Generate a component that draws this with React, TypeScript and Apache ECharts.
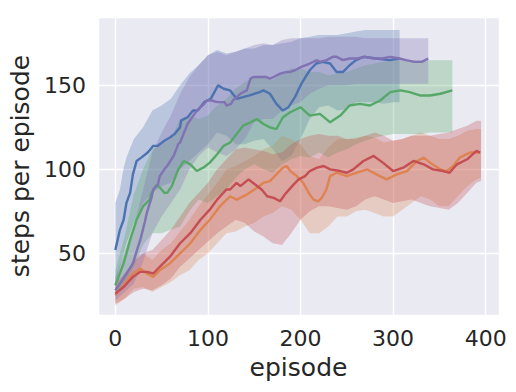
import React, { useEffect, useRef } from "react";
import * as echarts from "echarts";

// ---- axis ticks ----
const X_TICKS = [0, 100, 200, 300, 400];
const Y_TICKS = [50, 100, 150];

// ---- mean curves: [episode, steps per episode] ----
const blueMean = [
  [0, 52], [5, 64], [9, 70], [12, 80], [16, 86], [19, 97], [23, 105], [28, 107], [35, 110], [38, 112], [41, 114],
  [46, 114], [48, 115], [53, 117], [59, 119], [64, 121], [70, 125], [71, 129], [78, 131], [84, 135], [89, 135],
  [96, 140], [103, 142], [111, 150], [117, 148], [124, 147], [131, 142], [138, 143], [145, 144], [150, 145],
  [156, 146], [160, 147], [167, 145], [174, 139], [181, 135], [187, 137], [194, 143], [201, 151], [210, 159],
  [217, 163], [224, 164], [232, 163], [239, 158], [246, 158], [253, 162], [260, 165], [268, 167], [282, 166],
  [296, 165], [307, 166],
];
const orangeMean = [
  [0, 25], [9, 31], [19, 38], [27, 41], [34, 38], [41, 36], [48, 40], [59, 44], [70, 50], [81, 56], [92, 64],
  [102, 70], [113, 78], [124, 84], [131, 82], [142, 85], [153, 89], [160, 92], [167, 93], [174, 97], [181, 101],
  [185, 102], [189, 99], [196, 96], [203, 92], [210, 85], [214, 82], [219, 81], [223, 83], [228, 88], [232, 96],
  [239, 98], [250, 96], [261, 98], [272, 100], [282, 97], [293, 94], [304, 97], [315, 99], [326, 105], [333, 107],
  [340, 104], [351, 100], [358, 99], [365, 102], [372, 107], [383, 110], [394, 110],
];
const greenMean = [
  [0, 31], [9, 44], [16, 58], [23, 70], [30, 78], [37, 82], [39, 86], [45, 91], [50, 88], [53, 86], [56, 86],
  [61, 90], [68, 100], [74, 105], [81, 103], [88, 99], [95, 101], [102, 104], [110, 109], [117, 114], [124, 116],
  [131, 121], [138, 126], [146, 128], [153, 130], [160, 127], [167, 125], [174, 124], [181, 131], [189, 134],
  [200, 137], [210, 132], [221, 133], [232, 128], [243, 132], [253, 138], [264, 139], [275, 138], [286, 141],
  [297, 146], [308, 147], [318, 146], [329, 144], [340, 144], [351, 145], [364, 147],
];
const redMean = [
  [0, 26], [9, 30], [19, 36], [27, 39], [34, 39], [41, 38], [48, 42], [59, 48], [70, 56], [81, 62], [92, 70],
  [102, 76], [110, 82], [120, 88], [124, 88], [131, 92], [135, 90], [144, 94], [151, 91], [158, 88], [164, 84],
  [171, 83], [178, 81], [183, 85], [191, 90], [198, 94], [205, 96], [210, 99], [218, 101], [225, 102], [232, 100],
  [243, 99], [250, 98], [257, 100], [268, 105], [279, 108], [289, 104], [300, 99], [311, 101], [322, 105],
  [333, 103], [343, 100], [354, 99], [361, 98], [369, 103], [380, 106], [390, 111], [394, 110],
];
const purpleMean = [
  [0, 28], [10, 36], [19, 44], [24, 53], [27, 58], [32, 69], [34, 74], [39, 83], [41, 88], [46, 91], [48, 96],
  [53, 100], [56, 102], [63, 108], [68, 115], [70, 116], [75, 123], [78, 127], [88, 135], [96, 139], [99, 141],
  [104, 141], [110, 140], [118, 140], [120, 138], [125, 139], [127, 141], [135, 145], [142, 147], [146, 154],
  [149, 155], [156, 155], [163, 155], [167, 154], [171, 155], [178, 157], [185, 158], [189, 158], [194, 159],
  [201, 161], [210, 163], [218, 165], [221, 164], [228, 165], [235, 167], [239, 167], [246, 165], [253, 166],
  [261, 166], [270, 167], [279, 166], [288, 166], [297, 167], [307, 166], [314, 165], [323, 164], [331, 164],
  [338, 166],
];

// ---- confidence bands: [episode, lower, upper] ----
const blueBand = [
  [0, 30, 80], [5, 42, 88], [9, 50, 101], [12, 56, 107], [20, 68, 118], [30, 80, 125], [40, 86, 135],
  [50, 90, 138], [60, 92, 142], [70, 100, 150], [80, 105, 157], [90, 110, 162], [100, 115, 168], [110, 122, 171],
  [120, 120, 169], [130, 115, 170], [140, 115, 172], [150, 117, 172], [160, 118, 174], [170, 112, 174],
  [180, 105, 175], [190, 108, 176], [200, 118, 178], [210, 130, 179], [220, 137, 180], [230, 138, 180],
  [240, 135, 180], [250, 136, 181], [260, 140, 182], [270, 140, 183], [280, 140, 183], [290, 139, 183],
  [300, 140, 183], [307, 140, 183],
];
const orangeBand = [
  [0, 19, 30], [10, 23, 38], [20, 29, 46], [30, 30, 50], [40, 27, 46], [50, 30, 52], [60, 33, 56], [70, 37, 63],
  [80, 40, 70], [90, 46, 78], [100, 50, 85], [110, 56, 92], [120, 62, 100], [130, 63, 102], [140, 66, 105],
  [150, 68, 108], [160, 72, 112], [170, 74, 114], [180, 78, 120], [190, 76, 118], [200, 70, 115], [210, 62, 108],
  [220, 62, 106], [230, 66, 113], [240, 72, 118], [250, 72, 118], [260, 75, 119], [270, 76, 120], [280, 74, 119],
  [290, 72, 116], [300, 72, 117], [310, 76, 118], [320, 80, 120], [330, 84, 122], [340, 82, 120], [350, 78, 118],
  [360, 78, 118], [370, 84, 120], [380, 90, 123], [390, 94, 124], [395, 95, 124],
];
const greenBand = [
  [0, 25, 40], [10, 32, 60], [20, 42, 85], [30, 55, 100], [40, 62, 112], [50, 62, 115], [60, 64, 118],
  [70, 66, 130], [80, 75, 132], [90, 82, 130], [100, 80, 132], [110, 84, 138], [120, 88, 142], [130, 95, 148],
  [140, 100, 152], [150, 103, 155], [160, 100, 155], [170, 98, 153], [180, 103, 157], [190, 106, 160],
  [200, 108, 160], [210, 107, 158], [220, 110, 158], [230, 107, 156], [240, 110, 157], [250, 112, 158],
  [260, 115, 160], [270, 117, 162], [280, 119, 163], [290, 120, 164], [300, 121, 165], [310, 121, 165],
  [320, 121, 165], [330, 121, 165], [340, 122, 165], [350, 122, 165], [364, 122, 165],
];
const redBand = [
  [0, 20, 32], [10, 23, 38], [20, 27, 45], [30, 29, 50], [40, 28, 52], [50, 31, 58], [60, 35, 64], [70, 42, 72],
  [80, 47, 80], [90, 52, 86], [100, 57, 92], [110, 62, 100], [120, 66, 106], [130, 70, 112], [140, 68, 113],
  [150, 63, 112], [160, 60, 111], [170, 56, 109], [180, 55, 110], [190, 62, 115], [200, 70, 118], [210, 75, 120],
  [220, 78, 121], [230, 78, 120], [240, 77, 120], [250, 76, 118], [260, 78, 118], [270, 82, 120], [280, 84, 122],
  [290, 82, 120], [300, 80, 117], [310, 81, 118], [320, 82, 120], [330, 80, 120], [340, 78, 120], [350, 77, 121],
  [360, 76, 122], [370, 80, 124], [380, 86, 126], [390, 92, 129], [395, 93, 129],
];
const purpleBand = [
  [0, 22, 36], [10, 27, 50], [20, 32, 66], [30, 45, 88], [40, 62, 110], [50, 72, 122], [60, 80, 132],
  [70, 88, 145], [80, 100, 155], [90, 108, 162], [100, 113, 168], [110, 110, 170], [120, 108, 168],
  [130, 112, 170], [140, 118, 172], [150, 128, 174], [160, 130, 175], [170, 130, 174], [180, 135, 177],
  [190, 138, 178], [200, 140, 178], [210, 145, 178], [220, 148, 178], [230, 150, 179], [240, 150, 179],
  [250, 150, 179], [260, 151, 179], [270, 151, 178], [280, 151, 178], [290, 151, 178], [300, 151, 178],
  [310, 151, 178], [320, 151, 178], [330, 151, 178], [338, 151, 178],
];

const SERIES = [
  { name: "blue", color: "#4C72B0", mean: blueMean, band: blueBand },
  { name: "orange", color: "#DD8452", mean: orangeMean, band: orangeBand },
  { name: "green", color: "#55A868", mean: greenMean, band: greenBand },
  { name: "red", color: "#C44E52", mean: redMean, band: redBand },
  { name: "purple", color: "#8172B3", mean: purpleMean, band: purpleBand },
];

const FONT = "DejaVu Sans";
const TEXT = "#262626";

function bandSeries(band: number[][], color: string) {
  return {
    type: "custom",
    data: band,
    z: 1,
    silent: true,
    encode: { x: 0, y: [1, 2] },
    renderItem: (params: any, api: any) => {
      if (params.dataIndex !== 0) return null;
      const top = band.map((d) => api.coord([d[0], d[2]]));
      const bottom = band.map((d) => api.coord([d[0], d[1]])).reverse();
      return {
        type: "polygon",
        shape: { points: top.concat(bottom) },
        style: { fill: color, opacity: 0.3 },
      };
    },
  };
}

export default function App() {
  const ref = useRef<HTMLDivElement>(null);
  useEffect(() => {
    if (!ref.current) return;
    const chart = echarts.init(ref.current, null, { renderer: "svg" });
    const series: any[] = [];
    SERIES.forEach((s) => series.push(bandSeries(s.band, s.color)));
    SERIES.forEach((s) =>
      series.push({
        type: "line",
        name: s.name,
        data: s.mean,
        showSymbol: false,
        symbol: "none",
        z: 2,
        silent: true,
        lineStyle: { color: s.color, width: 2.4 },
        itemStyle: { color: s.color },
      })
    );
    chart.setOption({
      animation: false,
      grid: {
        left: 98,
        right: 17,
        top: 17,
        bottom: 77,
        show: true,
        backgroundColor: "#EAEAF2",
        borderWidth: 0,
      },
      xAxis: {
        type: "value",
        min: -18.7,
        max: 414.4,
        minInterval: 100,
        maxInterval: 100,
        name: "episode",
        nameLocation: "middle",
        nameGap: 40,
        nameTextStyle: { fontSize: 25, color: TEXT, fontFamily: FONT },
        axisLine: { show: false },
        axisTick: { show: false },
        axisLabel: {
          fontSize: 22,
          color: TEXT,
          fontFamily: FONT,
          margin: 12,
          showMinLabel: false,
          showMaxLabel: false,
          formatter: (v: number) => (X_TICKS.includes(v) ? String(v) : ""),
        },
        splitLine: { show: true, lineStyle: { color: "#FFFFFF", width: 1.4 } },
      },
      yAxis: {
        type: "value",
        min: 13.3,
        max: 190.7,
        minInterval: 50,
        maxInterval: 50,
        name: "steps per episode",
        nameLocation: "middle",
        nameRotate: 90,
        nameGap: 58,
        nameTextStyle: { fontSize: 25, color: TEXT, fontFamily: FONT },
        axisLine: { show: false },
        axisTick: { show: false },
        axisLabel: {
          fontSize: 22,
          color: TEXT,
          fontFamily: FONT,
          margin: 12,
          showMinLabel: false,
          showMaxLabel: false,
          formatter: (v: number) => (Y_TICKS.includes(v) ? String(v) : ""),
        },
        splitLine: { show: true, lineStyle: { color: "#FFFFFF", width: 1.4 } },
      },
      series,
    });
    return () => chart.dispose();
  }, []);
  return (
    <div
      ref={ref}
      style={{ position: "fixed", left: 0, top: 0, width: 516, height: 392, background: "#FFFFFF" }}
    />
  );
}
